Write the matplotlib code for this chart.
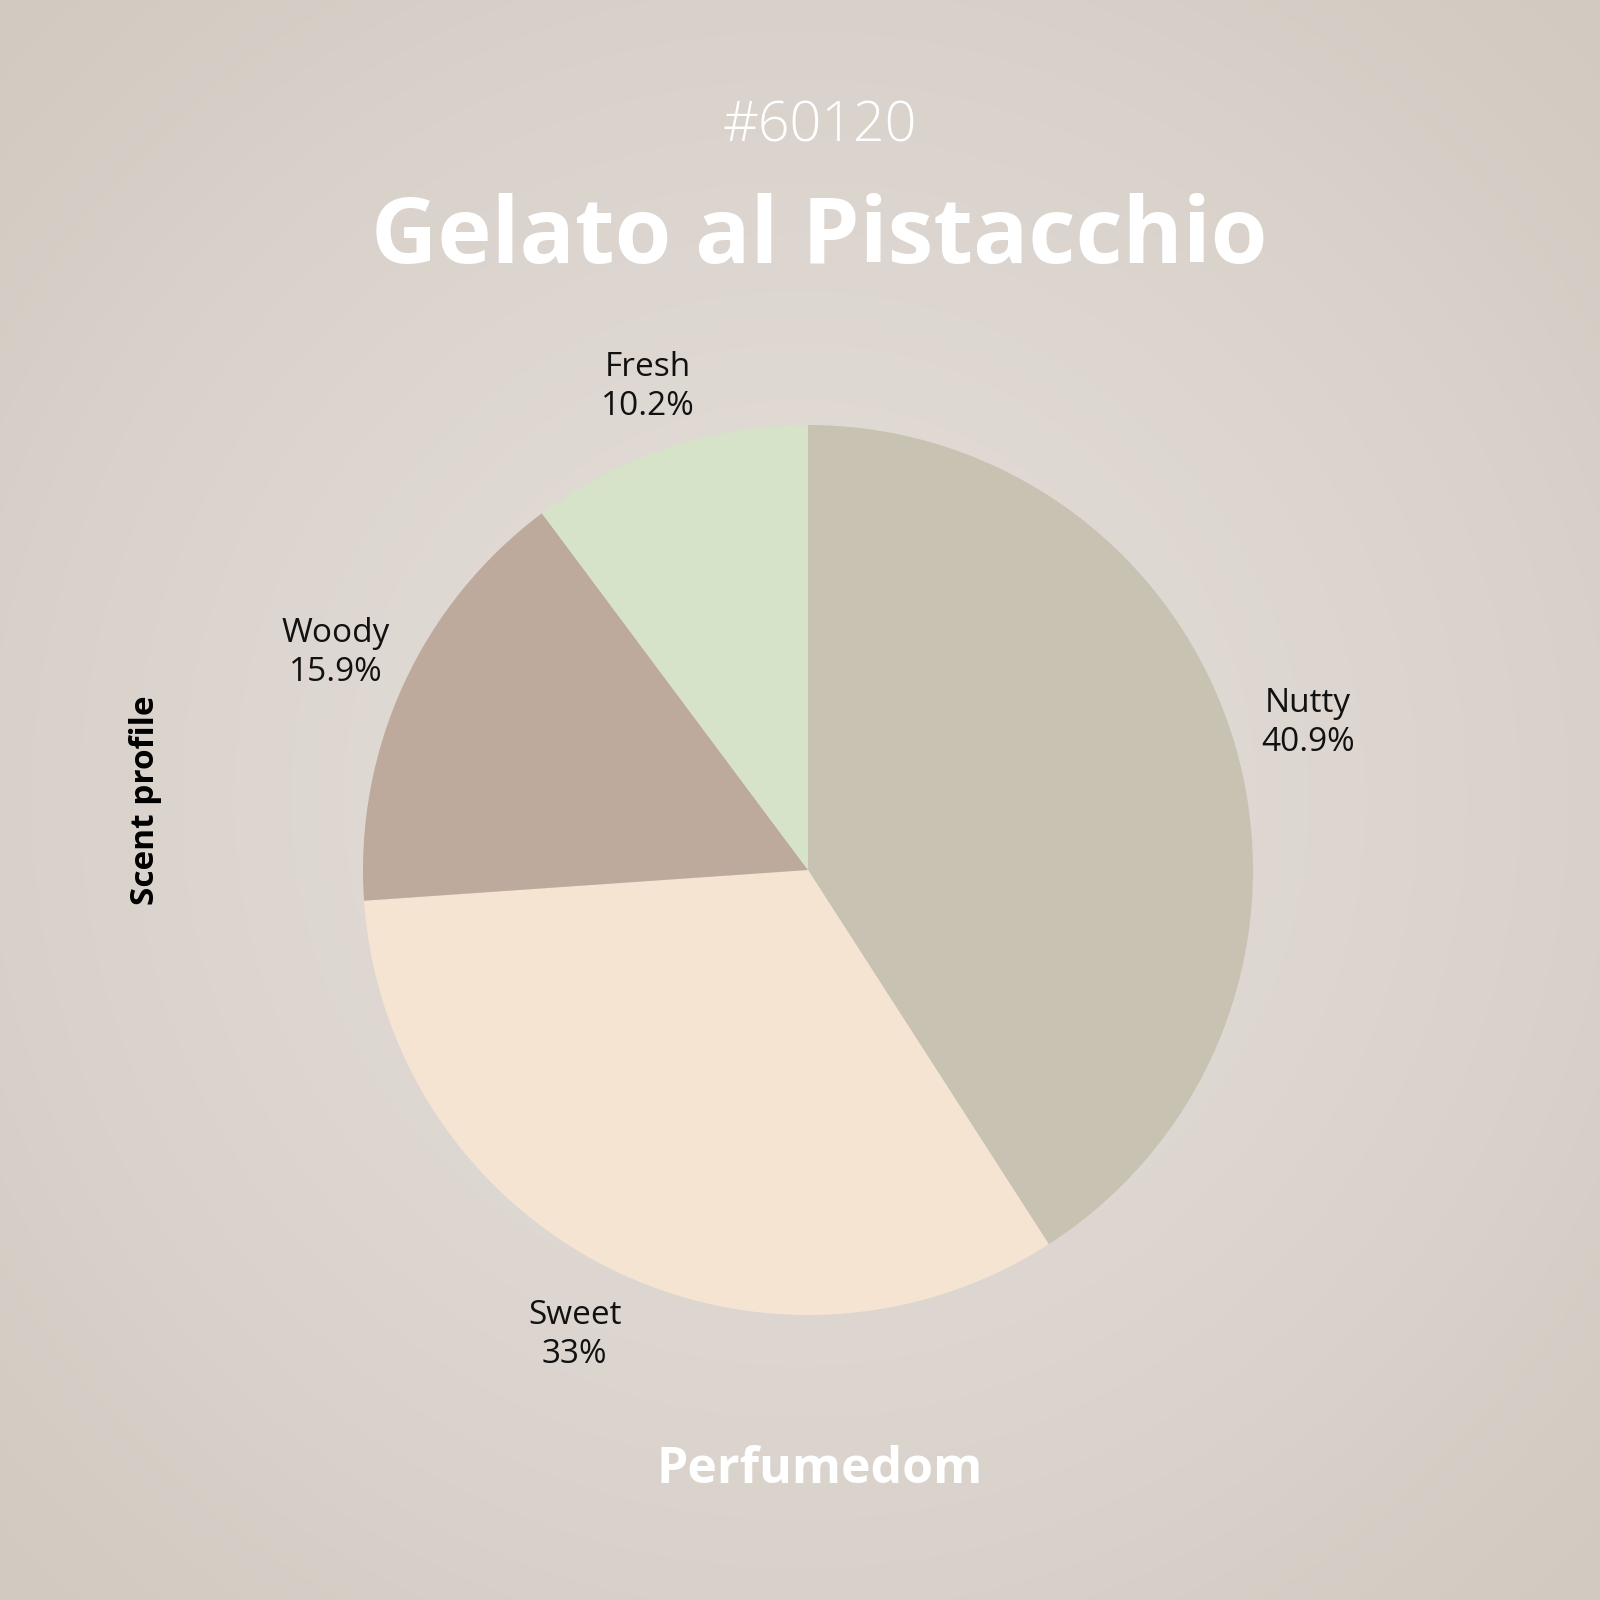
import numpy as np
import matplotlib
matplotlib.use("Agg")
import matplotlib.pyplot as plt
from matplotlib.colors import LinearSegmentedColormap

# data
categories = ["Nutty", "Sweet", "Woody", "Fresh"]
shares = [40.9, 33, 15.9, 10.2]
colors = ["#C8C2B2", "#F5E4D2", "#BEAA9C", "#D6E3C8"]
pct_labels = ["40.9%", "33%", "15.9%", "10.2%"]

code = "#60120"
title = "Gelato al Pistacchio"
brand = "Perfumedom"
side_label = "Scent profile"

FONT = ["Open Sans", "DejaVu Sans"]

fig = plt.figure(figsize=(16, 16), dpi=100)

# radial background
bg = fig.add_axes([0, 0, 1, 1])
yy, xx = np.mgrid[-1:1:400j, -1:1:400j]
rr = np.sqrt(xx ** 2 + yy ** 2) / np.sqrt(2)
cmap = LinearSegmentedColormap.from_list("bg", ["#E4DFDA", "#DDD6D0", "#D2C9C0"])
bg.imshow(rr, cmap=cmap, extent=[0, 1, 0, 1], aspect="auto", interpolation="bilinear")
bg.set_axis_off()

# pie axes, centre at (808, 870) px, radius 445 px
cx, cy, r = 808 / 1600, 1 - 870 / 1600, 445 / 1600
half = 600 / 1600
ax = fig.add_axes([cx - half, cy - half, 2 * half, 2 * half])
lim = half / r
wedges, _ = ax.pie(shares, colors=colors, startangle=90, counterclock=False,
                   wedgeprops=dict(linewidth=0))
ax.set_xlim(-lim, lim)
ax.set_ylim(-lim, lim)
ax.set_aspect("equal")
ax.set_axis_off()

for w, name, pct in zip(wedges, categories, pct_labels):
    ang = np.deg2rad((w.theta1 + w.theta2) / 2)
    # side labels sit a bit further out, top ones a bit closer
    d = 1.145 + 0.03 * abs(np.cos(ang)) - 0.012 * np.sin(ang)
    ax.text(d * np.cos(ang), d * np.sin(ang), f"{name}\n{pct}", ha="center", va="center",
            fontsize=24, color="#111111", family=FONT, linespacing=1.25)

fig.text(0.512, 1 - 127 / 1600, code, ha="center", va="center", fontsize=40,
         color="white", family=FONT, fontweight="light")
fig.text(0.512, 1 - 239 / 1600, title, ha="center", va="center", fontsize=66,
         color="white", family=FONT, fontweight="bold")
fig.text(0.512, 1 - 1470 / 1600, brand, ha="center", va="center", fontsize=36,
         color="white", family=FONT, fontweight="bold")
fig.text(145 / 1600, 1 - 800 / 1600, side_label, ha="center", va="center", fontsize=24,
         color="black", family=FONT, fontweight="bold", rotation=90)

fig.savefig("out.png", dpi=100)
